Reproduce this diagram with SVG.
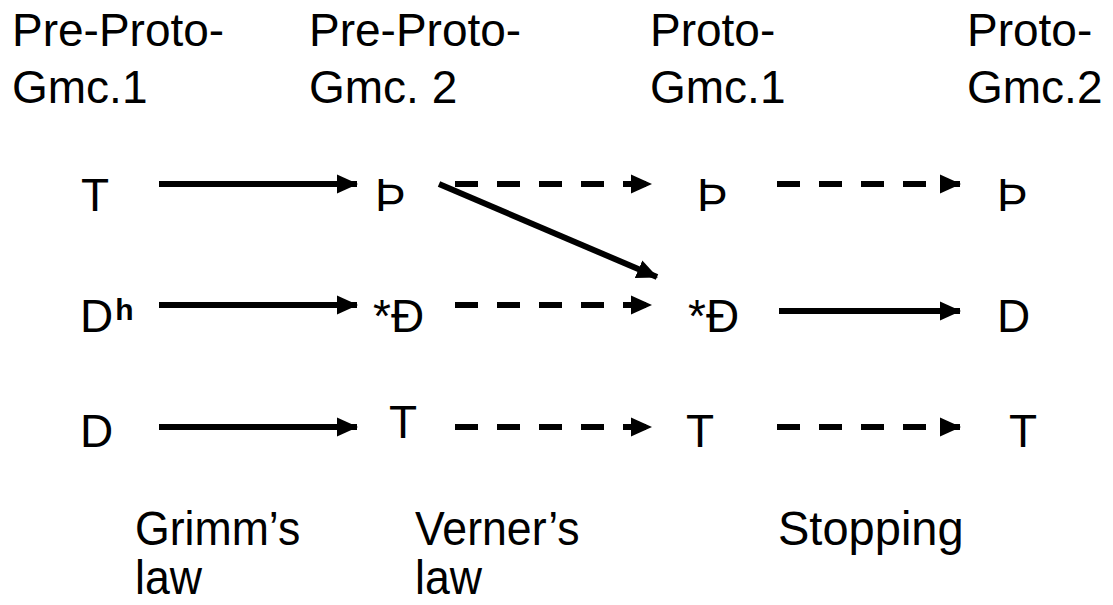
<svg xmlns="http://www.w3.org/2000/svg" width="1113" height="605" viewBox="0 0 1113 605">
<style>
text{font-family:"Liberation Sans",Arial,sans-serif;font-size:46px;fill:#000}
.sup{font-size:30px;font-weight:bold}
.lbl{font-size:48px}
.solid{stroke:#000;stroke-width:6;fill:none}
.dash{stroke:#000;stroke-width:6;fill:none;stroke-dasharray:23 19}
</style>
<defs>
<marker id="ah" markerUnits="userSpaceOnUse" markerWidth="22" markerHeight="22" viewBox="0 0 22 22" refX="20" refY="11" orient="auto">
<path d="M0,1.5 L21,11 L0,20.5 Z" fill="#000"/>
</marker>
</defs>
<g id="headers">
<text x="12" y="46">Pre-Proto-</text><text x="12" y="103">Gmc.1</text>
<text x="309" y="46">Pre-Proto-</text><text x="309" y="103">Gmc. 2</text>
<text x="650" y="46">Proto-</text><text x="650" y="103">Gmc.1</text>
<text x="967" y="46">Proto-</text><text x="967" y="103">Gmc.2</text>
</g>
<g id="row1">
<text x="81" y="211">T</text>
<text x="375" y="211">Þ</text>
<text x="697" y="211">Þ</text>
<text x="997" y="211">Þ</text>
</g>
<g id="row2">
<text x="80" y="332">D<tspan class="sup" dx="2" dy="-12">h</tspan></text>
<text x="373" y="332">*Đ</text>
<text x="688" y="332">*Đ</text>
<text x="997" y="332">D</text>
</g>
<g id="row3">
<text x="80" y="447">D</text>
<text x="389" y="438">T</text>
<text x="686" y="447">T</text>
<text x="1009" y="447">T</text>
</g>
<g id="labels">
<g transform="translate(135 0) scale(0.93 1)"><text class="lbl" x="0" y="545">Grimm’s</text><text class="lbl" x="0" y="594">law</text></g>
<g transform="translate(415 0) scale(0.93 1)"><text class="lbl" x="0" y="545">Verner’s</text><text class="lbl" x="0" y="594">law</text></g>
<g transform="translate(778 0) scale(0.98 1)"><text class="lbl" x="0" y="545">Stopping</text></g>
</g>
<g id="connectors">
<line class="solid" x1="159" y1="184" x2="357" y2="184" marker-end="url(#ah)"/>
<line class="solid" x1="439" y1="184" x2="657" y2="277" marker-end="url(#ah)"/>
<line class="dash" x1="455" y1="184" x2="651" y2="184" marker-end="url(#ah)"/>
<line class="dash" x1="777" y1="184" x2="960" y2="184" marker-end="url(#ah)"/>
<line class="solid" x1="159" y1="305" x2="357" y2="305" marker-end="url(#ah)"/>
<line class="dash" x1="455" y1="305" x2="651" y2="305" marker-end="url(#ah)"/>
<line class="solid" x1="779" y1="311" x2="960" y2="311" marker-end="url(#ah)"/>
<line class="solid" x1="159" y1="427" x2="357" y2="427" marker-end="url(#ah)"/>
<line class="dash" x1="455" y1="427" x2="651" y2="427" marker-end="url(#ah)"/>
<line class="dash" x1="777" y1="427" x2="960" y2="427" marker-end="url(#ah)"/>
</g>
</svg>
